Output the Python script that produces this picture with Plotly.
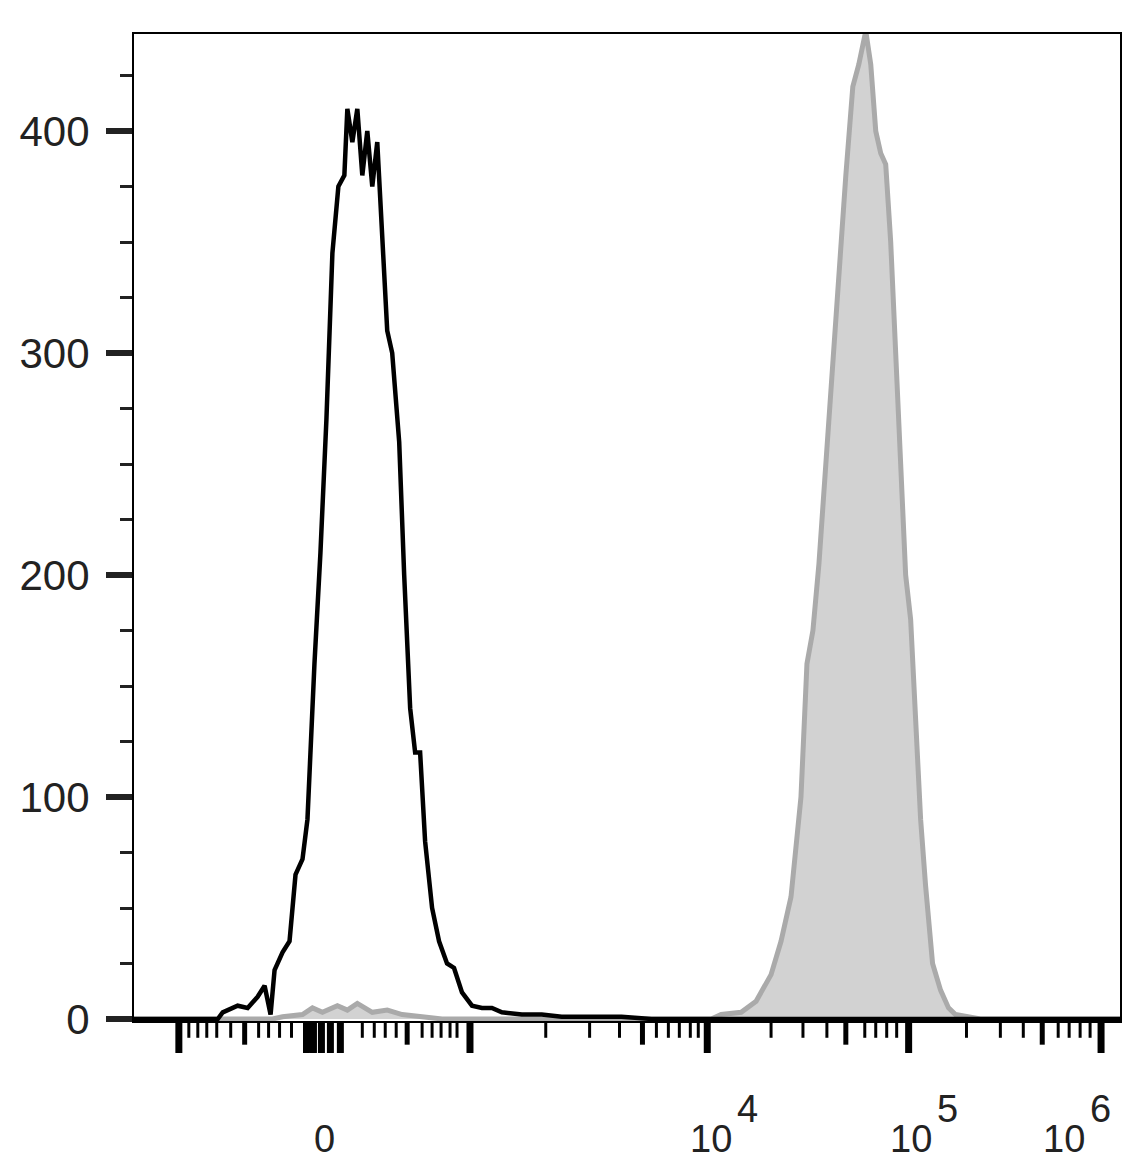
import plotly.graph_objects as go

# display channel positions (axis units) and event counts
black_x = [131, 215, 220, 235, 245, 255, 262, 268, 272, 280, 287, 293, 300, 305, 312, 318, 324, 330, 336, 342,
           345, 350, 355, 360, 365, 370, 375, 380, 385, 390, 397, 402, 408, 413, 418, 423, 430, 437, 445, 452,
           460, 470, 480, 490, 500, 520, 540, 560, 600, 620, 650, 1120]
black_y = [0, 0, 3, 6, 5, 10, 15, 2, 22, 30, 35, 65, 72, 90, 160, 210, 270, 345, 375, 380,
           410, 395, 410, 380, 400, 375, 395, 350, 310, 300, 260, 200, 140, 120, 120, 80, 50, 35, 25, 23,
           12, 6, 5, 5, 3, 2, 2, 1, 1, 1, 0, 0]

gray_x = [131, 270, 280, 300, 310, 320, 335, 345, 355, 370, 385, 400, 420, 440, 710, 720, 740, 755, 770, 780,
          790, 800, 806, 812, 818, 825, 832, 838, 845, 852, 858, 865, 870, 875, 880, 885, 890, 900, 905,
          910, 915, 920, 925, 932, 940, 948, 955, 965, 980, 1120]
gray_y = [0, 0, 1, 2, 5, 3, 6, 4, 7, 3, 4, 2, 1, 0, 0, 2, 3, 8, 20, 35,
          55, 100, 160, 175, 205, 250, 300, 340, 380, 420, 430, 445, 430, 400, 390, 385, 350, 250, 200,
          180, 130, 90, 60, 25, 13, 5, 2, 1, 0, 0]

long_ticks = [176, 304, 311, 319, 328, 338, 468, 706, 908, 1101]
mid_ticks = [242, 405, 641, 845, 1042]
short_ticks = [186, 195, 204, 214, 228, 256, 266, 277, 289, 360, 372, 383, 394, 420, 430, 439, 448, 455,
               544, 588, 618, 655, 667, 678, 689, 697, 770, 802, 826, 864, 875, 886, 896, 966, 1000, 1023,
               1058, 1069, 1080, 1090]
zero_label = 322
decade_pos = [710, 910, 1064]
decade_exp = ["4", "5", "6"]
y_ticks = [0, 100, 200, 300, 400]

fig = go.Figure()
fig.add_trace(go.Scatter(x=gray_x, y=gray_y, mode="lines", fill="tozeroy",
                         fillcolor="rgb(210,210,210)", line=dict(color="rgb(170,170,170)", width=5)))
fig.add_trace(go.Scatter(x=black_x, y=black_y, mode="lines", line=dict(color="black", width=4.5)))

shapes = []
for ticks, y1, w in [(long_ticks, -0.0324, 7), (mid_ticks, -0.024, 5), (short_ticks, -0.017, 3)]:
    for t in ticks:
        shapes.append(dict(type="line", xref="x", yref="paper", x0=t, x1=t, y0=-0.002, y1=y1,
                           line=dict(color="black", width=w)))

font = dict(family="Liberation Sans", size=38, color="#222")
yfont = dict(family="Liberation Sans", size=42, color="#222")
annotations = [dict(x=zero_label, y=-0.12, xref="x", yref="paper", text="0", showarrow=False,
                    font=font, xanchor="center", yanchor="middle")]
for p, e in zip(decade_pos, decade_exp):
    annotations.append(dict(x=p, y=-0.12, xref="x", yref="paper", text="10", showarrow=False,
                            font=font, xanchor="center", yanchor="middle"))
    annotations.append(dict(x=p, y=-0.12, xref="x", yref="paper", text=e, showarrow=False,
                            font=font, xanchor="left", yanchor="middle", xshift=24, yshift=30))

fig.update_layout(
    width=1148, height=1170, margin=dict(l=123, r=36, t=26, b=157),
    plot_bgcolor="white", paper_bgcolor="white", showlegend=False,
    shapes=shapes, annotations=annotations,
    xaxis=dict(range=[131, 1120], showgrid=False, zeroline=False, showticklabels=False, ticks="",
               showline=True, linecolor="black", linewidth=2, mirror=True),
    yaxis=dict(range=[-0.9, 443.7], showgrid=False, zeroline=False, tickvals=y_ticks,
               ticks="outside", ticklen=26, tickwidth=6, tickcolor="#222", ticklabelstandoff=8,
               tickfont=yfont,
               minor=dict(dtick=25, tick0=0, ticks="outside", ticklen=12, tickwidth=3, tickcolor="#222"),
               showline=True, linecolor="black", linewidth=2, mirror=True),
)
fig.write_html("out.html")
